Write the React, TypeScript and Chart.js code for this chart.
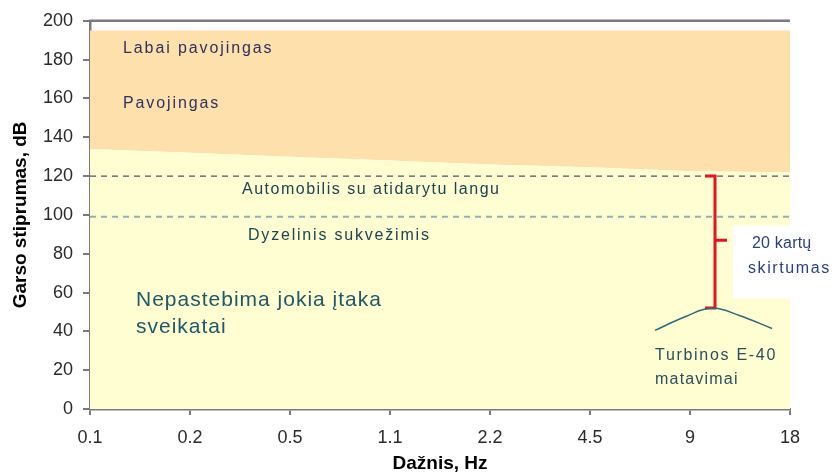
import React, { useEffect, useRef } from 'react';
import { Chart, registerables } from 'chart.js';
Chart.register(...registerables);

// ---- data ----
const freqLabels = ['0.1', '0.2', '0.5', '1.1', '2.2', '4.5', '9', '18'];
const freqIndex = [0, 1, 2, 3, 4, 5, 6, 7];
const safeBoundary = [134, 132, 130, 128, 126, 124.5, 122.5, 122];
const dangerTop = [195, 195, 195, 195, 195, 195, 195, 195];
const carLevel = [120, 120, 120, 120, 120, 120, 120, 120];
const dieselLevel = [99, 99, 99, 99, 99, 99, 99, 99];
const turbineX = [5.65, 5.95, 6.22, 6.5, 6.82];
const turbineY = [40.5, 47.5, 52, 48, 41.5];
const bracketX = [6.15, 6.25, 6.25, 6.15];
const bracketY = [120, 120, 52, 52];
const bracketTickX = [6.25, 6.37];
const bracketTickY = [87, 87];
const noteBoxX = [6.43, 8.0];
const noteBoxY = [57, 94.5];

const noteTexts = [
  'Labai pavojingas',
  'Pavojingas',
  'Automobilis su atidarytu langu',
  'Dyzelinis sukvežimis',
  'Nepastebima jokia įtaka',
  'sveikatai',
  '20 kartų',
  'skirtumas',
  'Turbinos E-40',
  'matavimai',
];
const noteX = [0.33, 0.33, 1.52, 1.58, 0.46, 0.46, 6.62, 6.58, 5.65, 5.65];
const noteY = [185.6, 157.4, 112.8, 89.2, 55.9, 42.1, 85.1, 72.3, 27.7, 14.9];

// ---- styles ----
const FONT = '"Liberation Sans", Arial, sans-serif';
const noteStyle = [
  { size: 16, color: '#2f3160', spacing: 1.9 },
  { size: 16, color: '#2f3160', spacing: 1.9 },
  { size: 16, color: '#1d4450', spacing: 1.5 },
  { size: 16, color: '#1d4450', spacing: 1.8 },
  { size: 21, color: '#1f5866', spacing: 1 },
  { size: 21, color: '#1f5866', spacing: 1 },
  { size: 16, color: '#2b3f7f', spacing: 0.2 },
  { size: 16, color: '#2b3f7f', spacing: 1.6 },
  { size: 16, color: '#2a4f5a', spacing: 1.7 },
  { size: 16, color: '#2a4f5a', spacing: 1.2 },
];

const AXIS = '#7a7a7a';

const overlayPlugin = {
  id: 'overlay',
  afterDatasetsDraw(chart: any) {
    const { ctx, scales } = chart;
    const xs = scales.x;
    const ys = scales.y;
    ctx.save();
    const bx0 = xs.getPixelForValue(noteBoxX[0]);
    const bx1 = Math.min(xs.getPixelForValue(noteBoxX[1]), chart.width);
    const by0 = ys.getPixelForValue(noteBoxY[1]);
    const by1 = ys.getPixelForValue(noteBoxY[0]);
    ctx.fillStyle = '#ffffff';
    ctx.fillRect(bx0, by0, bx1 - bx0, by1 - by0);
    ctx.textBaseline = 'middle';
    ctx.textAlign = 'left';
    noteTexts.forEach((t, i) => {
      const st = noteStyle[i];
      ctx.font = `${st.size}px ${FONT}`;
      ctx.fillStyle = st.color;
      (ctx as any).letterSpacing = `${st.spacing}px`;
      ctx.fillText(t, xs.getPixelForValue(noteX[i]), ys.getPixelForValue(noteY[i]));
    });
    (ctx as any).letterSpacing = '0px';
    ctx.restore();
  },
  afterDraw(chart: any) {
    const { ctx, chartArea } = chart;
    ctx.save();
    ctx.strokeStyle = AXIS;
    ctx.lineWidth = 2.5;
    ctx.beginPath();
    ctx.moveTo(chartArea.left - 1, chartArea.top);
    ctx.lineTo(chartArea.right, chartArea.top);
    ctx.stroke();
    ctx.restore();
  },
};

const pts = (xa: number[], ya: number[]) => xa.map((x, i) => ({ x, y: ya[i] }));

export default function App() {
  const ref = useRef<HTMLCanvasElement | null>(null);
  useEffect(() => {
    if (!ref.current) return;
    const chart = new Chart(ref.current, {
      type: 'line',
      data: {
        datasets: [
          {
            data: pts(freqIndex, carLevel),
            borderColor: '#4b5866',
            borderWidth: 1.3,
            borderDash: [6, 5],
            pointRadius: 0,
            fill: false,
            order: 1,
          },
          {
            data: pts(freqIndex, dieselLevel),
            borderColor: '#8fb3b3',
            borderWidth: 2,
            borderDash: [6, 5],
            pointRadius: 0,
            fill: false,
            order: 1,
          },
          {
            data: pts(turbineX, turbineY),
            borderColor: '#2e6a78',
            borderWidth: 1.5,
            tension: 0.4,
            pointRadius: 0,
            fill: false,
            order: 0,
          },
          {
            data: pts(bracketX, bracketY),
            borderColor: '#e3131f',
            borderWidth: 3,
            pointRadius: 0,
            fill: false,
            order: 0,
          },
          {
            data: pts(bracketTickX, bracketTickY),
            borderColor: '#e3131f',
            borderWidth: 3,
            pointRadius: 0,
            fill: false,
            order: 0,
          },
          {
            data: pts(freqIndex, safeBoundary),
            borderWidth: 0,
            borderColor: 'rgba(0,0,0,0)',
            backgroundColor: '#fffdd2',
            pointRadius: 0,
            fill: 'origin',
            order: 10,
          },
          {
            data: pts(freqIndex, dangerTop),
            borderWidth: 0,
            borderColor: 'rgba(0,0,0,0)',
            backgroundColor: '#fde0ab',
            pointRadius: 0,
            fill: '-1',
            order: 10,
          },
        ],
      },
      options: {
        animation: false,
        responsive: true,
        maintainAspectRatio: false,
        layout: { padding: { top: 19, right: 49, left: 0, bottom: 0 } },
        plugins: { legend: { display: false }, tooltip: { enabled: false } },
        scales: {
          x: {
            type: 'linear',
            min: 0,
            max: 7,
            afterFit: (s: any) => {
              s.height = 66;
            },
            ticks: {
              stepSize: 1,
              callback: (v: any) => freqLabels[v] ?? '',
              font: { size: 18, family: FONT },
              color: '#2a2a2a',
              padding: 12,
              maxRotation: 0,
            },
            grid: { drawOnChartArea: false, tickLength: 6, color: AXIS, lineWidth: 2 },
            border: { color: AXIS, width: 2.5 },
            title: {
              display: true,
              text: 'Dažnis, Hz',
              font: { size: 19, weight: 'bold', family: FONT },
              color: '#000',
              padding: { top: 0, bottom: 0 },
            },
          },
          y: {
            min: 0,
            max: 200,
            afterFit: (s: any) => {
              s.width = 90;
            },
            ticks: {
              stepSize: 20,
              font: { size: 18, family: FONT },
              color: '#2a2a2a',
              padding: 10,
            },
            grid: { drawOnChartArea: false, tickLength: 7, color: AXIS, lineWidth: 2 },
            border: { color: AXIS, width: 2.5 },
            title: {
              display: true,
              text: 'Garso stiprumas, dB',
              font: { size: 19, weight: 'bold', family: FONT },
              color: '#000',
              padding: { top: 9, bottom: 0 },
            },
          },
        },
      },
      plugins: [overlayPlugin],
    } as any);
    return () => chart.destroy();
  }, []);
  return (
    <div style={{ position: 'fixed', left: 0, top: 0, width: 839, height: 475, background: '#fff' }}>
      <canvas ref={ref} />
    </div>
  );
}
